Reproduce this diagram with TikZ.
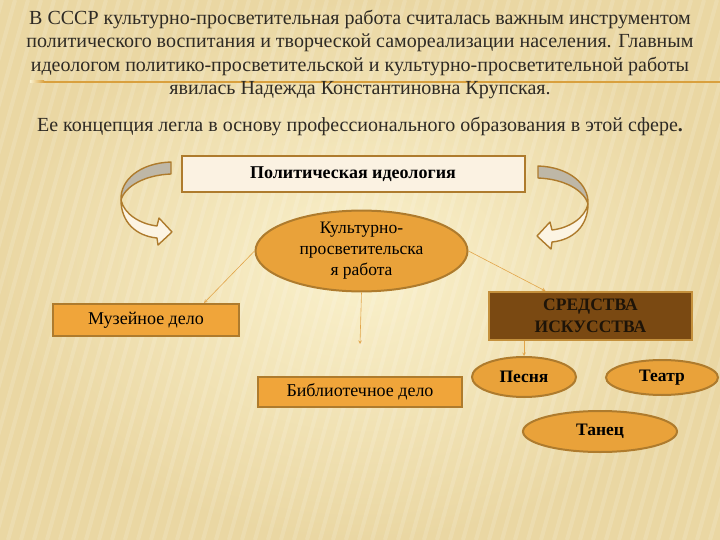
\documentclass[tikz,border=0pt]{standalone}
\usepackage{fontspec}
\setmainfont{Liberation Serif}
\usetikzlibrary{positioning, shapes.geometric}
\definecolor{bgmid}{HTML}{FAF1CC}
\definecolor{bgout}{HTML}{EAD7A3}
\definecolor{textdark}{HTML}{2E2A24}
\definecolor{rule}{HTML}{D9A03E}
\definecolor{boxline}{HTML}{AE7B2D}
\definecolor{boxfill}{HTML}{F0A53A}
\definecolor{ovalfill}{HTML}{E9A23A}
\definecolor{lightbox}{HTML}{FBF2E2}
\definecolor{darkbrown}{HTML}{7A4912}
\definecolor{darkline}{HTML}{C4903C}
\definecolor{darktext}{HTML}{1E1408}
\definecolor{arrowline}{HTML}{E2A54A}
\definecolor{bandgray}{HTML}{BEB7A7}
\definecolor{bandcream}{HTML}{FCF4E3}
\tikzset{
    block/.style={
        draw=boxline, line width=2pt,
        fill=boxfill,
        minimum height=32pt,
        align=center,
        font=\fontsize{18}{21}\selectfont
    },
    oval/.style={
        ellipse, draw=boxline, line width=2pt,
        fill=ovalfill, inner sep=0pt,
        align=center,
        font=\bfseries\fontsize{17.5}{21}\selectfont
    },
    line/.style={-stealth, draw=arrowline, line width=0.6pt},
    band/.style={draw=boxline, line width=1.4pt, line join=round}
}
% twisted curved arrow next to the top box
\newcommand{\bendarrow}{%
    \filldraw[band, fill=bandgray] (171,162) .. controls (140,163) and (120,180) .. (121,200)
        .. controls (125,186) and (145,175) .. (171,174) -- cycle;
    \filldraw[band, fill=bandcream] (121,200) .. controls (121,222) and (136,236) .. (157,238)
        -- (158,245) -- (172,232) -- (159,218) -- (157,226)
        .. controls (140,224) and (124,214) .. (121,200) -- cycle;
}

\begin{document}
\begin{tikzpicture}[x=1pt, y=-1pt]

    % background
    \useasboundingbox (0,0) rectangle (720,540);
    \shade[inner color=bgmid, outer color=bgout] (0,0) rectangle (720,540);
    \begin{scope}
        \clip (0,0) rectangle (720,540);
        \foreach \s in {-200,-187,...,720}
            \draw[white, opacity=0.14, line width=4pt] (\s,540) -- (\s+150,0);
    \end{scope}
    \shade[left color=bgmid, right color=rule] (30,81) rectangle (44,83);
    \fill[rule] (44,81) rectangle (720,83);

    % text on top
    \node[font=\fontsize{20}{23.6}\selectfont, align=center, text=textdark] (intro) at (360,54.5)
        {В СССР культурно-просветительная работа считалась важным инструментом\\
         политического воспитания и творческой самореализации населения. Главным\\
         идеологом политико-просветительской и культурно-просветительной работы\\
         явилась Надежда Константиновна Крупская.};
    \node[font=\fontsize{20}{23.6}\selectfont, text=textdark] (concept) at (360,126.5)
        {Ее концепция легла в основу профессионального образования в этой сфере\textbf{.}};

    % curved arrows
    \bendarrow
    \begin{scope}[xshift=709pt, yshift=-4pt, xscale=-1]
        \bendarrow
    \end{scope}

    % Boxes
    \node[block, fill=lightbox, minimum width=343pt, minimum height=36pt,
        font=\bfseries\fontsize{18}{21}\selectfont] (ideology) at (353,174.5) {Политическая идеология};
    \node[oval, minimum width=212pt, minimum height=74pt,
        font=\fontsize{17.5}{21}\selectfont] (kpr) at (361.5,251) {Культурно-\\просветительска\\я работа};
    \node[block, minimum width=186pt] (museum) at (146,320) {Музейное дело};
    \node[block, minimum width=204pt, minimum height=30pt] (library) at (360,392) {Библиотечное дело};
    \node[block, fill=darkbrown, draw=darkline, text=darktext, minimum width=203pt, minimum height=48pt,
        font=\bfseries\fontsize{17.5}{22}\selectfont] (sredstva) at (590.5,316) {СРЕДСТВА\\ИСКУССТВА};

    % Art forms
    \node[oval, minimum width=104pt, minimum height=40pt] (pesnya) at (524,377) {Песня};
    \node[oval, minimum width=112pt, minimum height=35pt] (teatr) at (662,377.5) {Театр};
    \node[oval, minimum width=154pt, minimum height=41pt] (tanets) at (600,431.5) {Танец};

    % Lines
    \coordinate (libend) at (360,344);
    \draw[line] (kpr.west) -- ([xshift=-36pt]museum.north east);
    \draw[line] (kpr.south) -- (libend);
    \draw[line] (kpr.east) -- ([xshift=-45pt]sredstva.north);
    \draw[line] (pesnya.north |- sredstva.south) -- (pesnya.north);

\end{tikzpicture}
\end{document}
